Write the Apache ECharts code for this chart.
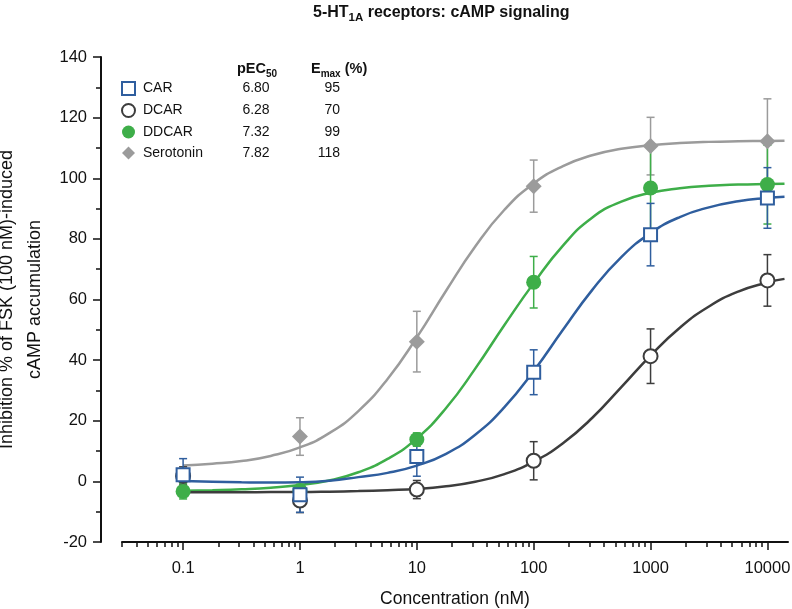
<!DOCTYPE html>
<html><head><meta charset="utf-8">
<script src="https://cdn.jsdelivr.net/npm/echarts@6/dist/echarts.min.js"></script>
<style>html,body{margin:0;padding:0;background:#fff}#c{width:792px;height:609px}</style>
</head><body><div id="c"></div>
<script>
// measured points (mean, error)
const conc = [0.1, 1, 10, 100, 1000, 10000];
const carMean = [2.2, -4.4, 8.2, 36.0, 81.4, 93.5];
const carErr = [5.3, 5.8, 6.5, 7.4, 10.3, 10.0];
const dcarMean = [1.8, -6.3, -2.7, 6.8, 41.3, 66.3];
const dcarErr = [3.0, 4.0, 3.0, 6.3, 9.0, 8.5];
const ddcarMean = [-3.3, -3.0, 13.8, 65.7, 96.8, 97.9];
const ddcarErr = [2.5, 2.0, 2.2, 8.5, 13.5, 13.0];
const serMean = [1.5, 14.8, 46.1, 97.4, 110.6, 112.2];
const serErr = [2.0, 6.2, 10.0, 8.6, 9.5, 14.0];

// fitted curves
const curveX = [0.1, 0.178, 0.316, 0.562, 1, 1.78, 3.16, 5.62, 10, 17.8, 31.6, 56.2, 100, 178, 316, 562, 1000, 1780, 3160, 5620, 10000, 14000];
const carCurve = [0.1, -0.1, -0.3, -0.4, -0.3, 0.2, 1.4, 2.8, 5.2, 9.1, 15.4, 24.5, 36.4, 50.0, 63.1, 74.0, 81.9, 87.2, 90.4, 92.4, 93.5, 93.9];
const dcarCurve = [-3.6, -3.6, -3.6, -3.5, -3.5, -3.4, -3.2, -2.9, -2.5, -1.6, -0.1, 2.4, 6.5, 12.6, 20.9, 31.1, 41.5, 50.7, 57.7, 62.6, 65.6, 66.8];
const ddcarCurve = [-3.1, -2.9, -2.6, -2.1, -1.2, 0.3, 3.0, 7.4, 14.2, 24.2, 37.2, 51.6, 65.4, 77.8, 87.0, 92.3, 95.2, 96.7, 97.5, 97.9, 98.1, 98.2];
const serCurve = [5.2, 5.8, 6.7, 8.4, 11.2, 15.9, 23.2, 33.8, 47.5, 62.9, 77.5, 89.6, 98.3, 104.0, 107.6, 109.7, 110.9, 111.6, 112.0, 112.2, 112.3, 112.4];

// legend table
const names = ['CAR', 'DCAR', 'DDCAR', 'Serotonin'];
const pEC50 = ['6.80', '6.28', '7.32', '7.82'];
const emax = ['95', '70', '99', '118'];

// ticks
const xMajor = [0.1, 1, 10, 100, 1000, 10000];
const xMinor = [0.03, 0.04, 0.05, 0.06, 0.07, 0.08, 0.09,
  0.2, 0.3, 0.4, 0.5, 0.6, 0.7, 0.8, 0.9,
  2, 3, 4, 5, 6, 7, 8, 9,
  20, 30, 40, 50, 60, 70, 80, 90,
  200, 300, 400, 500, 600, 700, 800, 900,
  2000, 3000, 4000, 5000, 6000, 7000, 8000, 9000];

const FONT = '"Liberation Sans", Arial, sans-serif';
const colors = { CAR: '#2f5e9e', DCAR: '#3d3d3d', DDCAR: '#3eae49', Serotonin: '#9b9b9b' };

function pairs(xs, ys) { return xs.map((x, i) => [x, ys[i]]); }

function errSeries(name, mean, err, color, z) {
  return {
    type: 'custom', name: name + ' SEM', z: z, silent: true,
    data: conc.map((c, i) => [c, mean[i] - err[i], mean[i] + err[i]]),
    encode: { x: 0, y: [1, 2] },
    renderItem: function (params, api) {
      const lo = api.coord([api.value(0), api.value(1)]);
      const hi = api.coord([api.value(0), api.value(2)]);
      const w = 4;
      const st = { stroke: color, lineWidth: 1.5 };
      return {
        type: 'group', children: [
          { type: 'line', shape: { x1: lo[0], y1: lo[1], x2: hi[0], y2: hi[1] }, style: st },
          { type: 'line', shape: { x1: lo[0] - w, y1: lo[1], x2: lo[0] + w, y2: lo[1] }, style: st },
          { type: 'line', shape: { x1: hi[0] - w, y1: hi[1], x2: hi[0] + w, y2: hi[1] }, style: st }
        ]
      };
    }
  };
}
function curveSeries(name, ys, color, z) {
  return {
    type: 'line', name: name + ' fit', z: z, smooth: 0.5, showSymbol: false, silent: true,
    data: pairs(curveX, ys), lineStyle: { color: color, width: 2.5 }
  };
}
function pointSeries(name, mean, symbol, size, filled, z) {
  const c = colors[name];
  return {
    type: 'scatter', name: name, z: z, symbol: symbol, symbolSize: size,
    data: pairs(conc, mean),
    itemStyle: filled ? { color: c, borderWidth: 0, opacity: 1 } : { color: '#ffffff', borderColor: c, borderWidth: 2, opacity: 1 }
  };
}

const chart = echarts.init(document.getElementById('c'), null, { renderer: 'canvas' });
const titleRich = {
  b: { fontSize: 16, fontWeight: 'bold', color: '#111', fontFamily: FONT, lineHeight: 19 },
  s: { fontSize: 11.5, fontWeight: 'bold', color: '#111', fontFamily: FONT, lineHeight: 22, verticalAlign: 'bottom' }
};
const headRich = {
  b: { fontSize: 14.5, fontWeight: 'bold', color: '#111', fontFamily: FONT, lineHeight: 18 },
  s: { fontSize: 10, fontWeight: 'bold', color: '#111', fontFamily: FONT, lineHeight: 20, verticalAlign: 'bottom' }
};
const option = {
  animation: false,
  textStyle: { fontFamily: FONT },
  title: [
    { text: '{b|5-HT}{s|1A}{b| receptors: cAMP signaling}', left: 313, top: 2, padding: 0, textStyle: { rich: titleRich } },
    { text: '{b|pEC}{s|50}', left: 237, top: 59, padding: 0, textStyle: { rich: headRich } },
    { text: '{b|E}{s|max}{b| (%)}', left: 311, top: 59, padding: 0, textStyle: { rich: headRich } }
  ],
  legend: {
    data: names, orient: 'vertical', left: 121, top: 81, padding: 0,
    itemWidth: 13, itemHeight: 13, itemGap: 7, selectedMode: false,
    formatter: function (n) { const i = names.indexOf(n); return '{n|' + n + '}{p|' + pEC50[i] + '}{e|' + emax[i] + '}'; },
    textStyle: {
      fontSize: 14, color: '#111',
      rich: {
        n: { width: 88, padding: [0, 0, 0, 3], fontSize: 14, lineHeight: 16, color: '#111', fontFamily: FONT },
        p: { width: 50, align: 'center', fontSize: 14, lineHeight: 16, color: '#111', fontFamily: FONT },
        e: { width: 59, align: 'right', fontSize: 14, lineHeight: 16, color: '#111', fontFamily: FONT }
      }
    }
  },
  grid: { left: 122, right: 4, top: 57, bottom: 67, containLabel: false, outerBoundsMode: 'none' },
  xAxis: [
    {
      type: 'log', logBase: 10, min: 0.03, max: 15000, position: 'bottom',
      name: 'Concentration (nM)', nameLocation: 'middle', nameGap: 48, nameMoveOverlap: false,
      nameTextStyle: { fontSize: 17.5, color: '#111' },
      axisLine: { onZero: false, lineStyle: { color: '#111', width: 2 } },
      axisTick: { show: true, customValues: xMajor, length: 8, lineStyle: { color: '#111', width: 1.5 } },
      axisLabel: { customValues: xMajor, fontSize: 16.5, color: '#111', margin: 18, formatter: v => String(v) },
      splitLine: { show: false }, minorTick: { show: false }
    },
    {
      type: 'log', logBase: 10, min: 0.03, max: 15000, position: 'bottom', offset: 0,
      axisLine: { show: false, onZero: false },
      axisTick: { show: true, customValues: xMinor, length: 5, lineStyle: { color: '#111', width: 1.5 } },
      axisLabel: { show: false }, splitLine: { show: false }
    }
  ],
  yAxis: {
    type: 'value', min: -20, max: 140, interval: 20, offset: 21,
    name: 'Inhibition % of FSK (100 nM)-induced\ncAMP accumulation',
    nameLocation: 'middle', nameGap: 52, nameMoveOverlap: false,
    nameTextStyle: { fontSize: 18, color: '#111', lineHeight: 28 },
    axisLine: { show: true, onZero: false, lineStyle: { color: '#111', width: 2 } },
    axisTick: { show: true, length: 8, lineStyle: { color: '#111', width: 1.5 } },
    minorTick: { show: true, splitNumber: 2, length: 5, lineStyle: { color: '#111', width: 1.5 } },
    axisLabel: { fontSize: 16.5, color: '#111', margin: 14 },
    splitLine: { show: false }
  },
  series: [
    curveSeries('Serotonin', serCurve, colors.Serotonin, 1),
    curveSeries('DDCAR', ddcarCurve, colors.DDCAR, 2),
    curveSeries('DCAR', dcarCurve, colors.DCAR, 3),
    curveSeries('CAR', carCurve, colors.CAR, 4),
    errSeries('Serotonin', serMean, serErr, colors.Serotonin, 5),
    errSeries('DDCAR', ddcarMean, ddcarErr, colors.DDCAR, 6),
    errSeries('DCAR', dcarMean, dcarErr, colors.DCAR, 7),
    errSeries('CAR', carMean, carErr, colors.CAR, 8),
    pointSeries('Serotonin', serMean, 'diamond', 16, true, 9),
    pointSeries('DDCAR', ddcarMean, 'circle', 15, true, 10),
    pointSeries('DCAR', dcarMean, 'circle', 14, false, 11),
    pointSeries('CAR', carMean, 'rect', 13, false, 12)
  ]
};
chart.setOption(option);
</script></body></html>
